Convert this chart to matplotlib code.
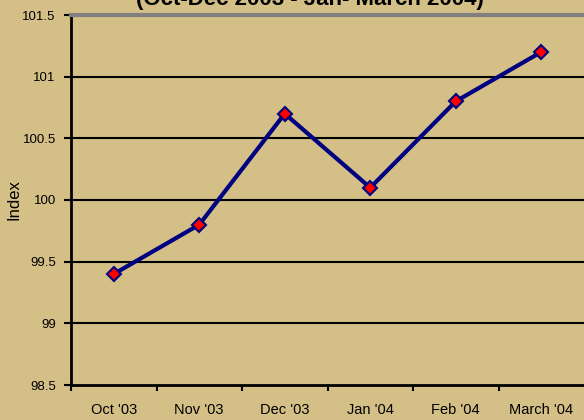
import matplotlib
matplotlib.use("Agg")
import matplotlib.pyplot as plt
import numpy as np

months = ["Oct '03", "Nov '03", "Dec '03", "Jan '04", "Feb '04", "March '04"]
index_vals = [99.4, 99.8, 100.7, 100.1, 100.8, 101.2]
yticks = [98.5, 99, 99.5, 100, 100.5, 101, 101.5]

plt.rcParams['font.family'] = ['Liberation Sans', 'DejaVu Sans']
bg = '#D4BF87'

fig = plt.figure(figsize=(5.84, 4.2), dpi=100, facecolor=bg)
ax = fig.add_axes([71/584, 35/420, 513/584, 370/420], facecolor=bg)

x = np.arange(len(months))
ax.set_xlim(-0.5, len(months) - 0.5)
ax.set_ylim(98.5, 101.5)

for v in yticks[1:-1]:
    ax.axhline(v, color='black', linewidth=1.5, zorder=1)

ax.plot(x, index_vals, color='#000080', linewidth=3, zorder=3,
        marker='D', markersize=7, markerfacecolor='red',
        markeredgecolor='#000080', markeredgewidth=1.5)

ax.set_yticks(yticks)
ax.set_yticklabels([f"{v:g}" for v in yticks], fontsize=9.5)
ax.set_xticks(x)
ax.set_xticklabels(months, fontsize=10.5)
ax.set_xticks(np.arange(len(months)) - 0.5, minor=True)
ax.tick_params(axis='x', which='major', length=0, pad=13)
ax.tick_params(axis='x', which='minor', length=4, width=1.5, color='black')
ax.tick_params(axis='y', length=5, width=1.5, color='black', pad=6)
ax.set_ylabel("Index", fontsize=12, va='center')
ax.yaxis.set_label_coords(-0.112, 0.5)

ax.spines['left'].set_linewidth(2)
ax.spines['bottom'].set_linewidth(2)
ax.spines['top'].set_color('#808080')
ax.spines['top'].set_linewidth(3)
ax.spines['right'].set_visible(False)

fig.text(0.53, 1 - 5/420, "(Oct-Dec 2003 - Jan- March 2004)", ha='center',
         va='baseline', fontsize=16, fontweight='bold')

fig.savefig('out.png', dpi=100, facecolor=bg)
